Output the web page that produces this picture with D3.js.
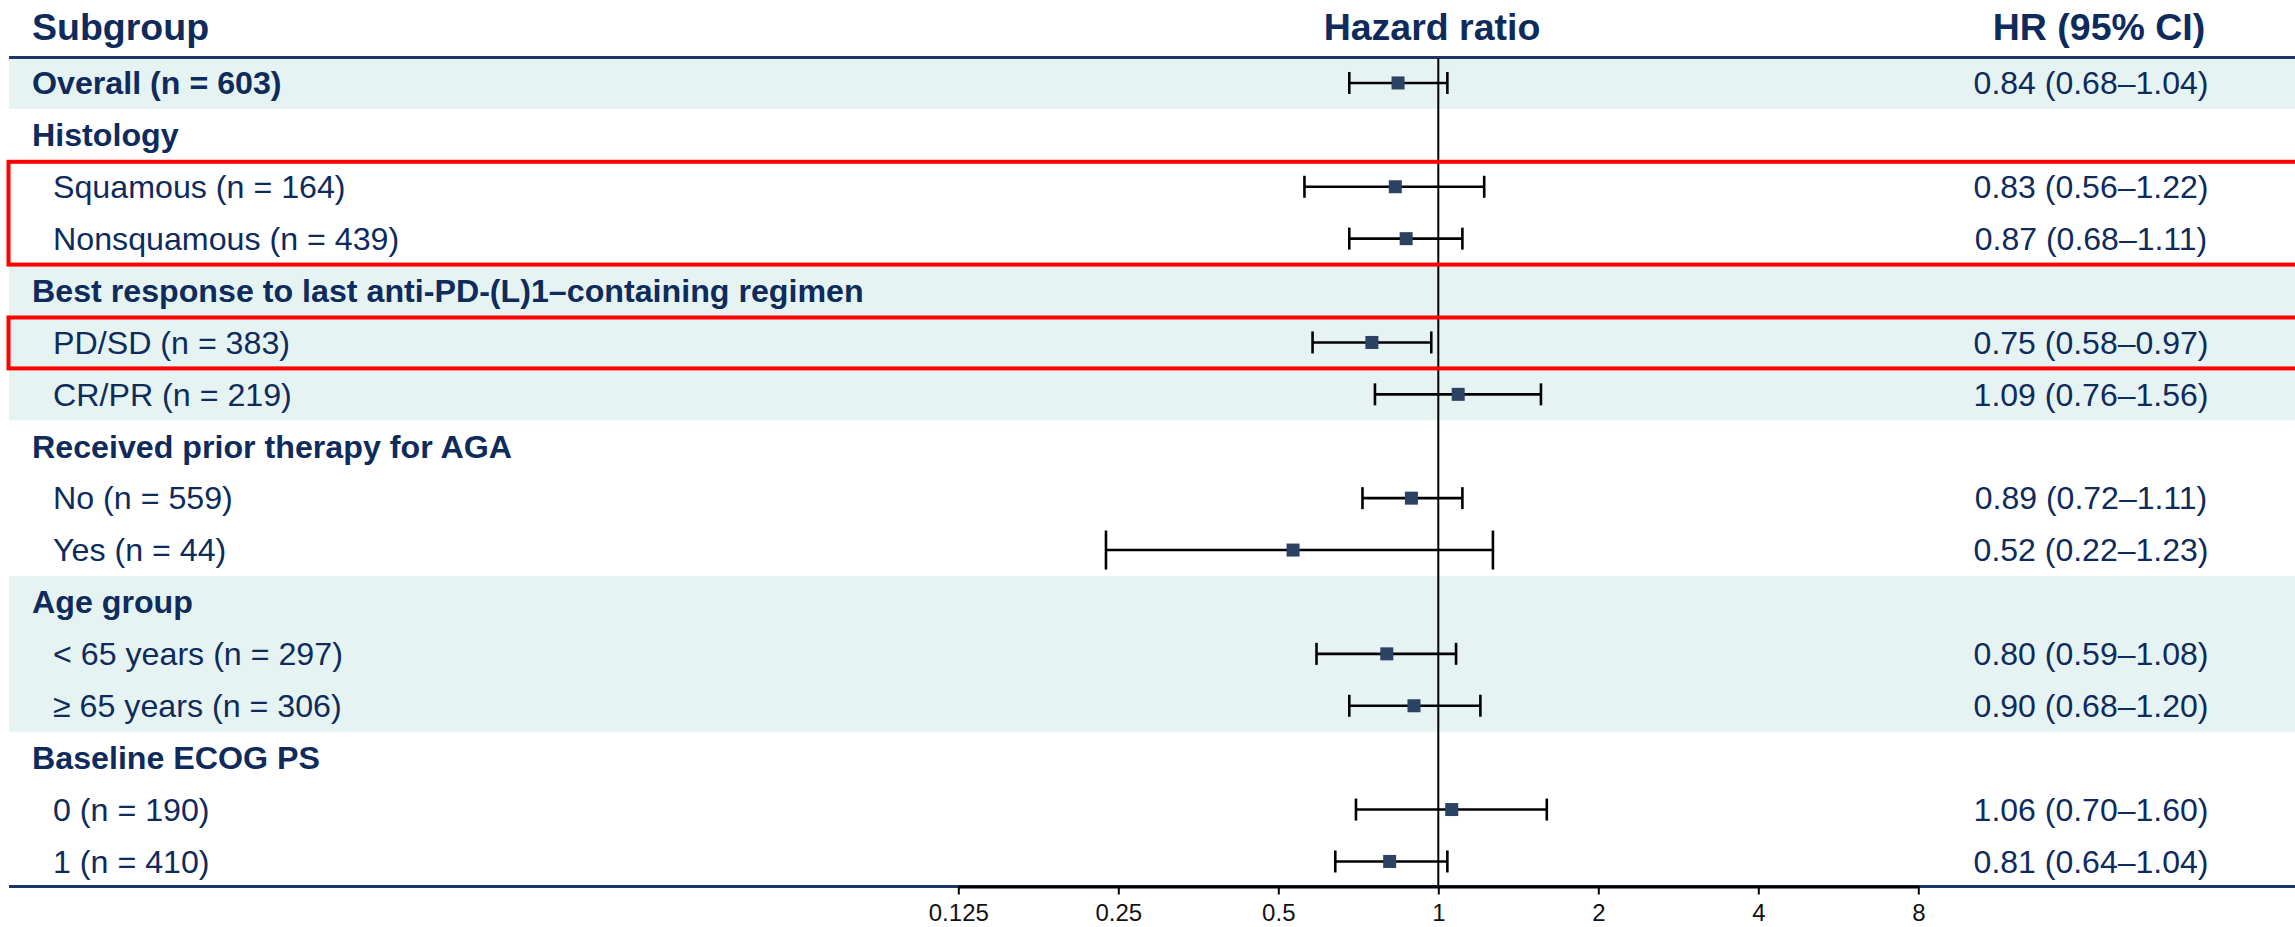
<!DOCTYPE html>
<html>
<head>
<meta charset="utf-8">
<script src="https://cdn.jsdelivr.net/npm/d3@7"></script>
<style>
  body { margin: 0; background: #fff; }
  svg { display: block; font-family: "Liberation Sans", Arial, sans-serif; }
</style>
</head>
<body>
<div id="chart"></div>
<script>
// row labels, top to bottom
const labels = [
  "Overall (n = 603)",
  "Histology",
  "Squamous (n = 164)",
  "Nonsquamous (n = 439)",
  "Best response to last anti-PD-(L)1\u2013containing regimen",
  "PD/SD (n = 383)",
  "CR/PR (n = 219)",
  "Received prior therapy for AGA",
  "No (n = 559)",
  "Yes (n = 44)",
  "Age group",
  "< 65 years (n = 297)",
  "\u2265 65 years (n = 306)",
  "Baseline ECOG PS",
  "0 (n = 190)",
  "1 (n = 410)"
];
// bold rows (group headings)
const boldRows = [0, 1, 4, 7, 10, 13];

// printed HR (95% CI) column
const ciText = [
  "0.84 (0.68\u20131.04)", "", "0.83 (0.56\u20131.22)", "0.87 (0.68\u20131.11)", "",
  "0.75 (0.58\u20130.97)", "1.09 (0.76\u20131.56)", "", "0.89 (0.72\u20131.11)",
  "0.52 (0.22\u20131.23)", "", "0.80 (0.59\u20131.08)", "0.90 (0.68\u20131.20)", "",
  "1.06 (0.70\u20131.60)", "0.81 (0.64\u20131.04)"
];

// plotted marks (null = heading row)
const hr = [0.84, null, 0.83, 0.87, null, 0.75, 1.09, null, 0.89, 0.533, null, 0.80, 0.90, null, 1.06, 0.81];
const lo = [0.68, null, 0.56, 0.68, null, 0.58, 0.76, null, 0.72, 0.237, null, 0.59, 0.68, null, 0.70, 0.64];
const hi = [1.04, null, 1.22, 1.11, null, 0.97, 1.56, null, 1.11, 1.267, null, 1.08, 1.20, null, 1.60, 1.04];

const tickValues = [0.125, 0.25, 0.5, 1, 2, 4, 8];
const tickLabels = ["0.125", "0.25", "0.5", "1", "2", "4", "8"];

// shaded row groups and red highlight boxes, as [firstRow, lastRow]
const shadedGroups = [[0, 0], [4, 6], [10, 12]];
const highlightGroups = [[2, 3], [5, 5]];

const width = 2295;
const height = 927;
const navy = "#0e2b5c";
const markColor = "#2c4263";
const shade = "#e5f3f2";

const svg = d3.select("#chart").append("svg")
  .attr("width", width)
  .attr("height", height);

const yBand = d3.scaleBand()
  .domain(d3.range(labels.length))
  .range([57, 57 + 51.9 * labels.length])
  .padding(0);

const x = d3.scaleLog().base(2)
  .domain([0.125, 8])
  .range([958.3, 1918.3]);

const yMid = (i) => yBand(i) + yBand.bandwidth() / 2;

// background shading
svg.append("g")
  .selectAll("rect")
  .data(shadedGroups)
  .join("rect")
  .attr("x", 9)
  .attr("y", (d) => yBand(d[0]))
  .attr("width", width - 9)
  .attr("height", (d) => yBand(d[1]) + yBand.bandwidth() - yBand(d[0]))
  .attr("fill", shade);

// header texts
const header = svg.append("g")
  .attr("font-weight", "bold")
  .attr("font-size", 37.5)
  .attr("fill", navy);
header.append("text").attr("x", 32).attr("y", 40).text("Subgroup");
header.append("text").attr("x", 1432).attr("y", 40)
  .attr("text-anchor", "middle").text("Hazard ratio");
header.append("text").attr("x", 2099).attr("y", 40)
  .attr("text-anchor", "middle").text("HR (95% CI)");

// header rule
svg.append("line")
  .attr("x1", 9).attr("x2", width)
  .attr("y1", 57.5).attr("y2", 57.5)
  .attr("stroke", "#1b3765")
  .attr("stroke-width", 3);

// row labels
svg.append("g")
  .selectAll("text")
  .data(labels)
  .join("text")
  .attr("x", (d, i) => (boldRows.includes(i) ? 32 : 53))
  .attr("y", (d, i) => yMid(i))
  .attr("dy", "0.35em")
  .attr("font-size", 32.2)
  .attr("font-weight", (d, i) => (boldRows.includes(i) ? "bold" : "normal"))
  .attr("fill", navy)
  .text((d) => d);

// HR column
svg.append("g")
  .selectAll("text")
  .data(ciText)
  .join("text")
  .attr("x", 2091)
  .attr("y", (d, i) => yMid(i))
  .attr("dy", "0.35em")
  .attr("text-anchor", "middle")
  .attr("font-size", 32)
  .attr("fill", navy)
  .text((d) => d);

// reference line at HR = 1
svg.append("line")
  .attr("x1", x(1)).attr("x2", x(1))
  .attr("y1", 58).attr("y2", 886)
  .attr("stroke", "#000")
  .attr("stroke-width", 2);

// CI bars
const rows = d3.range(labels.length).filter((i) => hr[i] != null);
// the "Yes" row is drawn with taller caps in the source
const capHalf = (i) => (i === 9 ? 19.5 : 11);

const ci = svg.append("g")
  .attr("stroke", "#000")
  .attr("stroke-width", 2.6);

ci.selectAll("line.ci")
  .data(rows)
  .join("line")
  .attr("class", "ci")
  .attr("x1", (i) => x(lo[i]))
  .attr("x2", (i) => x(hi[i]))
  .attr("y1", (i) => yMid(i))
  .attr("y2", (i) => yMid(i));

ci.selectAll("line.capl")
  .data(rows)
  .join("line")
  .attr("class", "capl")
  .attr("x1", (i) => x(lo[i]))
  .attr("x2", (i) => x(lo[i]))
  .attr("y1", (i) => yMid(i) - capHalf(i))
  .attr("y2", (i) => yMid(i) + capHalf(i));

ci.selectAll("line.caph")
  .data(rows)
  .join("line")
  .attr("class", "caph")
  .attr("x1", (i) => x(hi[i]))
  .attr("x2", (i) => x(hi[i]))
  .attr("y1", (i) => yMid(i) - capHalf(i))
  .attr("y2", (i) => yMid(i) + capHalf(i));

// point estimates
svg.append("g")
  .selectAll("rect")
  .data(rows)
  .join("rect")
  .attr("x", (i) => x(hr[i]) - 6.5)
  .attr("y", (i) => yMid(i) - 6.5)
  .attr("width", 13)
  .attr("height", 13)
  .attr("fill", markColor);

// red highlight boxes
svg.append("g")
  .selectAll("rect")
  .data(highlightGroups)
  .join("rect")
  .attr("x", 8.5)
  .attr("y", (d) => yBand(d[0]) + 1)
  .attr("width", width + 20)
  .attr("height", (d) => yBand(d[1]) + yBand.bandwidth() - yBand(d[0]) - 1)
  .attr("fill", "none")
  .attr("stroke", "#ff0000")
  .attr("stroke-width", 4);

// bottom rule + axis
const axisY = 886.5;
svg.append("line")
  .attr("x1", 9).attr("x2", width)
  .attr("y1", axisY).attr("y2", axisY)
  .attr("stroke", "#1b3765")
  .attr("stroke-width", 3);

const xAxis = d3.axisBottom(x)
  .tickValues(tickValues)
  .tickFormat((d, i) => tickLabels[i])
  .tickSize(8)
  .tickSizeOuter(0)
  .tickPadding(9.5);

const axisG = svg.append("g")
  .attr("transform", `translate(0, ${axisY})`)
  .call(xAxis);

axisG.select(".domain").attr("stroke", "#000").attr("stroke-width", 3);
axisG.selectAll(".tick line").attr("stroke", "#000").attr("stroke-width", 2);
axisG.selectAll(".tick text")
  .attr("font-family", "Liberation Sans, Arial, sans-serif")
  .attr("font-size", 24)
  .attr("fill", "#111");
</script>
</body>
</html>
